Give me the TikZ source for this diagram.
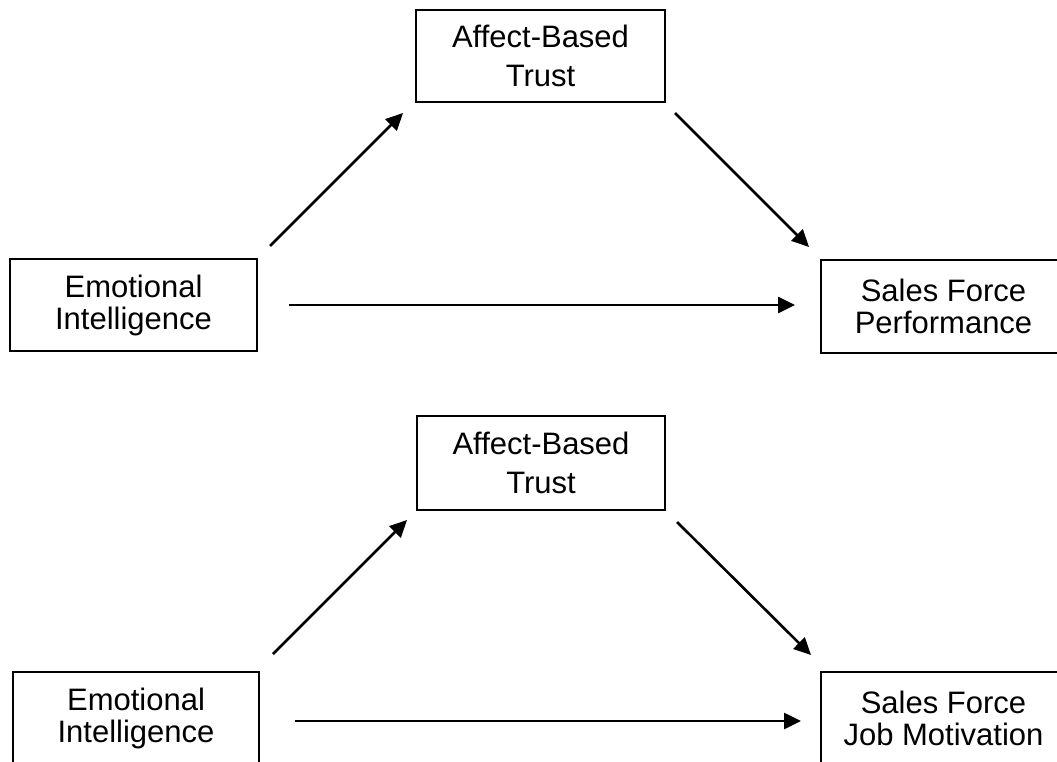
\documentclass[tikz,border=0pt]{standalone}
\usepackage{fontspec}
\setmainfont{Liberation Sans}
\usetikzlibrary{arrows.meta}
\tikzset{
  box/.style={draw=black, line width=2pt, inner sep=0pt, align=center,
    font=\fontsize{31}{32}\selectfont},
  tallbox/.style={box, font=\fontsize{31}{39}\selectfont},
  link/.style={line width=2.6pt, -{Triangle[length=17pt,width=16pt]}}
}
\begin{document}
\begin{tikzpicture}[x=1pt,y=-1pt]
\useasboundingbox (0,0) rectangle (1057,762);
% top diagram
\node[tallbox, minimum width=249pt, minimum height=92pt] (abt1) at (540.5,56) {Affect-Based\\Trust};
\node[box, minimum width=247pt, minimum height=92pt] (ei1) at (133.5,305) {\rule{0pt}{24pt}Emotional\\Intelligence};
\node[box, minimum width=245pt, minimum height=93pt] (sfp) at (943.5,306) {Sales Force\\Performance};
\coordinate (a1s) at (270,246); \coordinate (a1e) at (403,113);
\coordinate (a2s) at (675,113); \coordinate (a2e) at (809,247);
\coordinate (a3s) at (289,305); \coordinate (a3e) at (795,305);
\draw[link] (a1s) -- (a1e);
\draw[link] (a2s) -- (a2e);
\draw[link] (a3s) -- (a3e);
% bottom diagram
\node[tallbox, minimum width=248pt, minimum height=94pt] (abt2) at (541,463) {Affect-Based\\Trust};
\node[box, minimum width=246pt, minimum height=92pt] (ei2) at (136,718) {Emotional\\Intelligence};
\node[box, minimum width=245pt, minimum height=92pt] (sfm) at (943.5,718) {Sales Force\\Job Motivation};
\coordinate (b1s) at (273,654); \coordinate (b1e) at (407,520);
\coordinate (b2s) at (677,522); \coordinate (b2e) at (811,655);
\coordinate (b3s) at (295,721); \coordinate (b3e) at (801,721);
\draw[link] (b1s) -- (b1e);
\draw[link] (b2s) -- (b2e);
\draw[link] (b3s) -- (b3e);
\end{tikzpicture}
\end{document}
